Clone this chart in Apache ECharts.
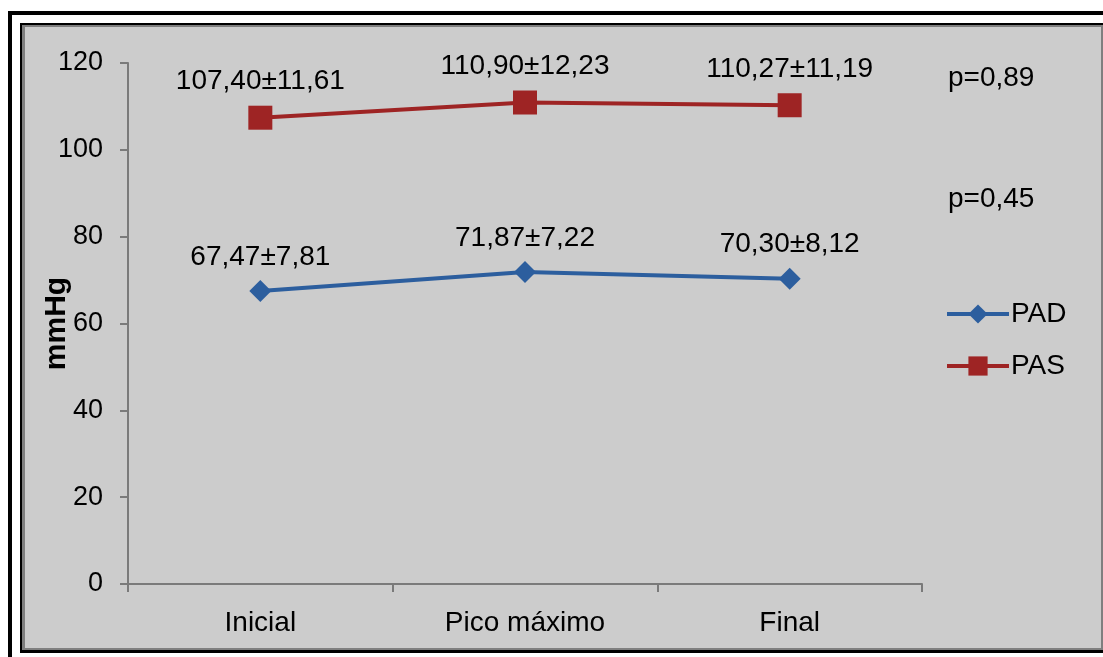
<!DOCTYPE html>
<html>
<head>
<meta charset="utf-8">
<script src="https://cdn.jsdelivr.net/npm/echarts@6/dist/echarts.min.js"></script>
<style>
  html, body { margin: 0; padding: 0; background: #ffffff; }
  #chart { width: 1103px; height: 657px; }
</style>
</head>
<body>
<div id="chart"></div>
<script>
// Blood pressure at three moments (mean ± SD, mmHg)
const categories = ['Inicial', 'Pico máximo', 'Final'];
const padMean = [67.47, 71.87, 70.30];
const padSd = [7.81, 7.22, 8.12];
const pasMean = [107.40, 110.90, 110.27];
const pasSd = [11.61, 12.23, 11.19];
const pValues = ['p=0,89', 'p=0,45'];

const FONT = '"Liberation Sans", Arial, sans-serif';
const PAD_COLOR = '#2c5e9e';
const PAS_COLOR = '#9e2424';

function fmt(v) {
  return v.toFixed(2).replace('.', ',');
}

function meanSdLabel(sd) {
  return function (p) {
    return fmt(p.value) + '±' + fmt(sd[p.dataIndex]);
  };
}

const chart = echarts.init(document.getElementById('chart'), null, { renderer: 'canvas' });

chart.setOption({
  backgroundColor: '#ffffff',
  animation: false,
  textStyle: { fontFamily: FONT },
  graphic: [
    // outer black frame (top and left edges)
    { type: 'rect', z: -10, shape: { x: 8, y: 11, width: 1100, height: 4 }, style: { fill: '#000000' } },
    { type: 'rect', z: -10, shape: { x: 8, y: 11, width: 4, height: 650 }, style: { fill: '#000000' } },
    // inner black frame, grey border and grey chart area
    { type: 'rect', z: -10, shape: { x: 20, y: 23, width: 1090, height: 630 }, style: { fill: '#000000' } },
    { type: 'rect', z: -9, shape: { x: 22, y: 25, width: 1090, height: 625 }, style: { fill: '#7f7f7f' } },
    { type: 'rect', z: -8, shape: { x: 25, y: 27, width: 1076, height: 621 }, style: { fill: '#cccccc' } },
    // significance notes
    { type: 'text', z: 10, left: 948, top: 64, style: { text: pValues[0], font: '28px ' + FONT, fill: '#000000' } },
    { type: 'text', z: 10, left: 948, top: 185, style: { text: pValues[1], font: '28px ' + FONT, fill: '#000000' } }
  ],
  grid: { left: 128, right: 181, top: 63, bottom: 73, containLabel: false },
  legend: {
    orient: 'vertical',
    left: 945,
    top: 300,
    padding: 0,
    itemWidth: 62,
    itemHeight: 24,
    itemGap: 24,
    lineStyle: { width: 4 },
    textStyle: { fontSize: 28, color: '#000000', fontFamily: FONT, lineHeight: 28, padding: [0, 0, 0, -3] },
    data: ['PAD', 'PAS']
  },
  xAxis: {
    type: 'category',
    data: categories,
    boundaryGap: true,
    axisLine: { lineStyle: { color: '#7a7a7a', width: 2 } },
    axisTick: { show: true, alignWithLabel: false, length: 8, lineStyle: { color: '#7a7a7a', width: 2 } },
    axisLabel: { color: '#000000', fontSize: 28, margin: 25, fontFamily: FONT },
    splitLine: { show: false }
  },
  yAxis: {
    type: 'value',
    min: 0,
    max: 120,
    interval: 20,
    name: 'mmHg',
    nameLocation: 'middle',
    nameRotate: 90,
    nameGap: 56,
    nameMoveOverlap: false,
    nameTextStyle: { fontSize: 30, fontWeight: 'bold', color: '#000000', fontFamily: FONT },
    axisLine: { show: true, lineStyle: { color: '#7a7a7a', width: 2 } },
    axisTick: { show: true, length: 8, lineStyle: { color: '#7a7a7a', width: 2 } },
    axisLabel: { color: '#000000', fontSize: 27, margin: 25, fontFamily: FONT },
    splitLine: { show: false }
  },
  series: [
    {
      name: 'PAD',
      type: 'line',
      data: padMean,
      symbol: 'diamond',
      symbolSize: [22, 22],
      itemStyle: { color: PAD_COLOR },
      lineStyle: { color: PAD_COLOR, width: 4 },
      label: {
        show: true,
        position: 'top',
        distance: 9,
        fontSize: 28,
        color: '#000000',
        fontFamily: FONT,
        formatter: meanSdLabel(padSd)
      }
    },
    {
      name: 'PAS',
      type: 'line',
      data: pasMean,
      symbol: 'rect',
      symbolSize: [24, 24],
      itemStyle: { color: PAS_COLOR },
      lineStyle: { color: PAS_COLOR, width: 4 },
      label: {
        show: true,
        position: 'top',
        distance: 10,
        fontSize: 28,
        color: '#000000',
        fontFamily: FONT,
        formatter: meanSdLabel(pasSd)
      }
    }
  ]
});
</script>
</body>
</html>
